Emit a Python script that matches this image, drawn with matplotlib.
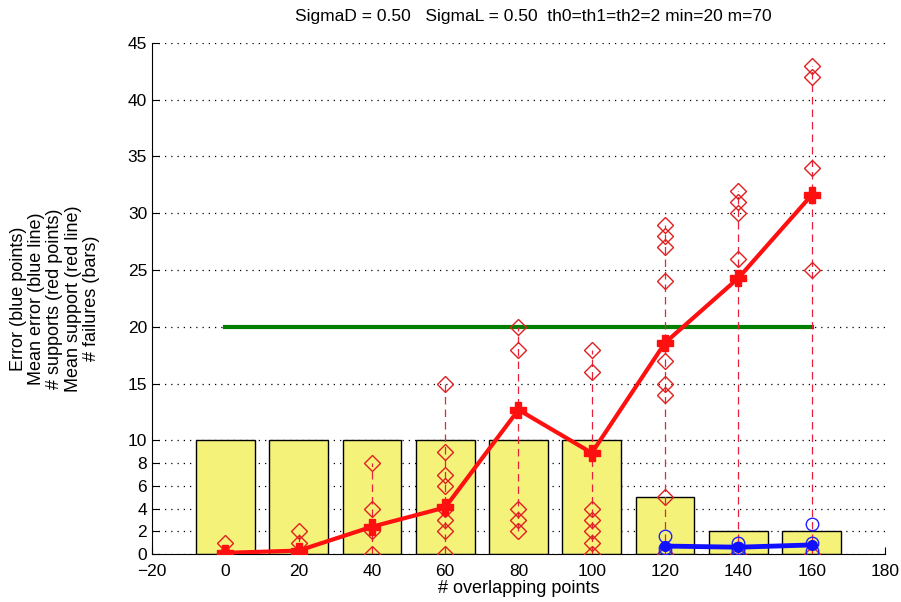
import numpy as np
import matplotlib
matplotlib.use('Agg')
import matplotlib.pyplot as plt

plt.rcParams['font.family'] = ['Liberation Sans', 'DejaVu Sans']

# overlapping points (x positions)
overlap = [0, 20, 40, 60, 80, 100, 120, 140, 160]

# failures (bars)
failures = [10, 10, 10, 10, 10, 10, 5, 2, 2]

# supports per run (red points)
supports = [
    [0, 0, 1],
    [0, 1, 2],
    [0, 2, 4, 8],
    [0, 2, 3, 4, 6, 7, 9, 15],
    [2, 3, 4, 18, 20],
    [0, 1, 2, 3, 4, 16, 18],
    [0, 5, 14, 15, 17, 24, 27, 28, 29],
    [0, 26, 30, 31, 32],
    [0, 25, 34, 42, 43],
]

# mean support (red line)
mean_support = [0.1, 0.3, 2.4, 4.1, 12.7, 8.9, 18.6, 24.3, 31.6]

# errors (blue points), only for successful runs
err_x = [120, 140, 160]
errors = [
    [0.2, 0.5, 1.6],
    [0.3, 0.5, 1.0],
    [0.3, 1.0, 2.6],
]
mean_error = [0.7, 0.6, 0.8]

# threshold (green line)
thr_x = [0, 160]
thr_y = [20, 20]

title = 'SigmaD = 0.50   SigmaL = 0.50  th0=th1=th2=2 min=20 m=70'
ylabel = ('Error (blue points)\nMean error (blue line)\n# supports (red points)\n'
          'Mean support (red line)\n# failures (bars)')
yticks = [0, 2, 4, 6, 8, 10, 15, 20, 25, 30, 35, 40, 45]

fig = plt.figure(figsize=(9.01, 6.02), dpi=100)
ax = fig.add_axes([0.1687, 0.0797, 0.8135, 0.849])

ax.bar(overlap, failures, width=16, color='#f5f27a', edgecolor='black',
       linewidth=1.0, zorder=2)

ax.plot(thr_x, thr_y, color='#007f00', linewidth=3, zorder=3)

for x, s in zip(overlap, supports):
    s = sorted(s)
    ax.plot([x] * len(s), s, color='#e8203c', linestyle=(0, (6, 4)),
            linewidth=0.9, marker='D', markersize=8, markerfacecolor='none',
            markeredgecolor='#e02020', markeredgewidth=1.0, zorder=4)

ax.plot(overlap, mean_support, color='#ff1010', linewidth=3, marker='P',
        markersize=11, zorder=5)

for x, e in zip(err_x, errors):
    ax.plot([x] * len(e), e, linestyle='none', marker='o', markersize=9,
            markerfacecolor='none', markeredgecolor='#2020ff',
            markeredgewidth=1.0, zorder=6)

ax.plot(err_x, mean_error, color='#1010ff', linewidth=3.5, marker='o',
        markersize=7, zorder=7)

ax.set_xlim(-20, 180)
ax.set_ylim(0, 45)
ax.set_xticks(range(-20, 181, 20))
ax.set_yticks(yticks)
ax.tick_params(direction='in', labelsize=12.5, length=5)
ax.tick_params(axis='x', pad=7)
ax.yaxis.grid(True, linestyle=(0, (1, 4)), color='black', linewidth=0.9,
              zorder=0)
ax.set_axisbelow(True)
ax.spines['top'].set_visible(False)
ax.spines['right'].set_visible(False)

ax.set_title(title, fontsize=12.5, pad=16, x=0.52)
ax.set_xlabel('# overlapping points', fontsize=13, labelpad=1)
ax.set_ylabel(ylabel, fontsize=13, labelpad=20, ha='center', linespacing=1.1)

plt.savefig('out.png', dpi=100)
